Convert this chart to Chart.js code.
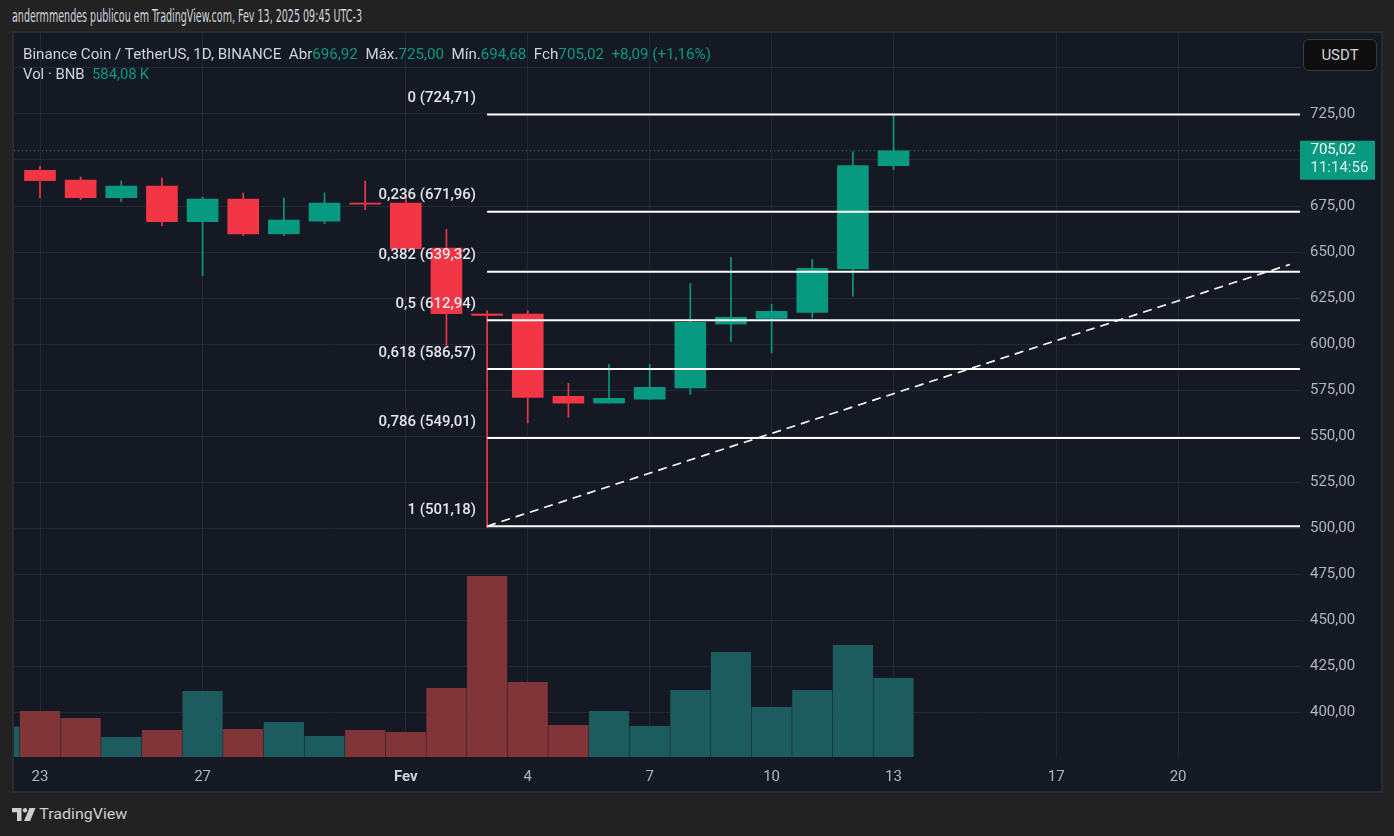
<!DOCTYPE html>
<html><head><meta charset="utf-8">
<script src="https://cdn.jsdelivr.net/npm/chart.js@4.4.1/dist/chart.umd.min.js"></script>
<style>
html,body{margin:0;padding:0;background:#222222;width:1394px;height:836px;overflow:hidden;font-family:Roboto,"Noto Sans",sans-serif;}
#header{position:absolute;left:12px;top:6px;font-family:"Liberation Sans Narrow","DejaVu Sans Condensed",Roboto,sans-serif;font-size:18px;line-height:19px;color:#d1d4dc;white-space:nowrap;transform-origin:0 50%;}
#panel{position:absolute;left:14px;top:33px;width:1367px;height:758px;background:#151924;box-shadow:0 0 0 2px #2b2c30;}
#chart{position:absolute;left:0;top:0;}
.leg{position:absolute;left:9px;white-space:nowrap;font-size:15px;line-height:18px;color:#d1d4dc;transform-origin:0 50%;}
.g{color:#089981}
#usdt{position:absolute;left:1289px;top:6px;width:72px;height:30px;background:#0e0e0f;border:1px solid #3a3b3e;border-radius:6px;color:#d1d4dc;font-size:15px;line-height:30px;text-align:center;}
#logo{position:absolute;left:12px;top:806px;height:16px;display:flex;align-items:center;color:#cfcfcf;font-size:15px;}
#logo svg{margin-right:6px}
</style></head>
<body>
<div id="header">andermmendes publicou em TradingView.com, Fev 13, 2025 09:45 UTC-3</div>
<div id="panel">
  <canvas id="chart" width="1367" height="758"></canvas>
  <div class="leg" id="leg1" style="top:12px">Binance Coin / TetherUS, 1D, BINANCE&nbsp;&nbsp;Abr<span class="g">696,92</span>&nbsp;&nbsp;Máx.<span class="g">725,00</span>&nbsp;&nbsp;Mín.<span class="g">694,68</span>&nbsp;&nbsp;Fch<span class="g">705,02</span>&nbsp;&nbsp;<span class="g">+8,09 (+1,16%)</span></div>
  <div class="leg" id="leg2" style="top:32px">Vol · BNB&nbsp;&nbsp;<span class="g">584,08&thinsp;K</span></div>
  <div id="usdt">USDT</div>
</div>
<div id="logo"><svg width="24" height="13" viewBox="0 0 24 13"><path d="M0 0H9.5V13H5V4.3H0Z" fill="#cfcfcf"/><circle cx="13" cy="2.2" r="2.2" fill="#cfcfcf"/><path d="M17.5 0H23.5L18 13H12Z" fill="#cfcfcf"/></svg><span id="logotext">TradingView</span></div>
<script>
// ---------- data ----------
const dates = ['2025-01-22','2025-01-23','2025-01-24','2025-01-25','2025-01-26','2025-01-27','2025-01-28','2025-01-29','2025-01-30','2025-01-31','2025-02-01','2025-02-02','2025-02-03','2025-02-04','2025-02-05','2025-02-06','2025-02-07','2025-02-08','2025-02-09','2025-02-10','2025-02-11','2025-02-12','2025-02-13'];
const opens  = [null,694.4,689.1,679.5,685.9,666.5,678.8,659.9,666.8,676.6,676.6,652.2,616.4,616.3,571.7,568.0,570.2,576.2,610.9,614.0,617.3,640.8,696.92];
const highs  = [null,696.7,690.8,688.6,690.2,679.9,682.1,679.3,682.1,688.6,680.5,662.3,618.2,618.2,578.7,589.0,589.0,633.0,647.1,621.6,646.0,704.5,725.00];
const lows   = [null,679.5,678.4,677.3,664.3,637.1,658.9,658.9,665.4,673.0,651.0,599.3,500.5,557.2,560.3,567.9,569.9,572.7,601.5,595.2,614.2,626.1,694.68];
const closes = [null,688.8,679.5,685.9,666.5,678.8,659.9,667.4,676.6,676.0,651.8,616.5,615.6,571.1,568.0,570.6,576.5,611.8,614.6,617.8,641.2,696.93,705.02];
const volumes = [223,339,287,146,198,488,206,258,154,198,183,510,1341,554,235,339,228,495,777,369,495,829,584.08]; // K BNB
const volumeUp = [true,false,false,true,false,true,false,true,true,false,false,false,false,false,false,true,true,true,true,true,true,true,true];
const xTickIndex  = [0,4,9,12,15,18,21,25,28];
const xTickLabels = ['23','27','Fev','4','7','10','13','17','20'];
const fibRatios = ['0','0,236','0,382','0,5','0,618','0,786','1'];
const fibLevels = [724.71,671.96,639.32,612.94,586.57,549.01,501.18];
const fibStartIndex = 11;
const trendX = [11, 30.75];
const trendY = [501.18, 643.3];
const lastPrice = 705.02;
const countdown = '11:14:56';
const yTicks = [400,425,450,475,500,525,550,575,600,625,650,675,700,725,750];

// ---------- helpers ----------
const X_MIN = -0.64, X_MAX = 31.0;
const Y_MIN = 375.85, Y_MAX = 768.95;
const idx = i => i - 1; // dates[0] = Jan 22 -> -1
const UP = '#089981', DOWN = '#f23645';
const VOL_UP = '#1d5c5e', VOL_DOWN = '#813539';
const fmt = v => v.toFixed(2).replace('.', ',');
const GRID = 'rgba(255,255,255,0.065)';

const bodyData = [], wickData = [], candleColors = [];
dates.forEach((d,i)=>{
  if (opens[i] == null) return;
  bodyData.push({x: idx(i), y: [opens[i], closes[i]]});
  wickData.push({x: idx(i), y: [lows[i], highs[i]]});
  candleColors.push(closes[i] >= opens[i] ? UP : DOWN);
});
const volData = volumes.map((v,i)=>({x: idx(i), y: v}));
const volColors = volumeUp.map(u => u ? VOL_UP : VOL_DOWN);

const datasets = [
  {type:'bar', label:'vol', data: volData, yAxisID:'yv', backgroundColor: volColors, barThickness: 39.5, grouped:false, order: 10, borderWidth:0},
  {type:'line', label:'last', data:[{x:X_MIN,y:lastPrice},{x:X_MAX,y:lastPrice}], yAxisID:'y', borderColor: UP, borderWidth:1, borderDash:[1,3], pointRadius:0, order: 7},
  {type:'bar', label:'wick', data: wickData, yAxisID:'y', backgroundColor: candleColors, barThickness: 1, grouped:false, order: 5, borderWidth:0},
  {type:'bar', label:'body', data: bodyData, yAxisID:'y', backgroundColor: candleColors, barThickness: 31, grouped:false, order: 4, borderWidth:0, minBarLength:1},
];
fibLevels.forEach((lv,i)=>{
  datasets.push({type:'line', label:'fib'+fibRatios[i], data:[{x:fibStartIndex,y:lv},{x:X_MAX,y:lv}], yAxisID:'y', borderColor:'#ffffff', borderWidth:2, pointRadius:0, order:2});
});
datasets.push({type:'line', label:'trend', data: trendX.map((x,i)=>({x, y: trendY[i]})), yAxisID:'y', borderColor:'#ffffff', borderWidth:1.6, borderDash:[9,6], pointRadius:0, order:1});

const fibLabelPlugin = {
  id:'fibLabels',
  afterDatasetsDraw(chart){
    const {ctx, scales:{x, y}} = chart;
    ctx.save();
    ctx.font = '500 15px Roboto';
    ctx.fillStyle = '#e3e5ea';
    ctx.textAlign = 'right';
    ctx.textBaseline = 'middle';
    const px = x.getPixelForValue(fibStartIndex) - 11;
    fibRatios.forEach((r,i)=>{
      ctx.fillText(`${r} (${fmt(fibLevels[i])})`, px, y.getPixelForValue(fibLevels[i]) - 16);
    });
    ctx.restore();
  },
  afterDraw(chart){
    const {ctx, chartArea, scales:{y}} = chart;
    const py = y.getPixelForValue(lastPrice);
    ctx.save();
    ctx.fillStyle = UP;
    ctx.fillRect(chartArea.right, py - 10, 75, 39);
    ctx.fillStyle = '#ffffff';
    ctx.font = '15px Roboto';
    ctx.textAlign = 'left';
    ctx.textBaseline = 'middle';
    ctx.fillText(fmt(lastPrice), chartArea.right + 10.5, py);
    ctx.fillStyle = 'rgba(255,255,255,0.85)';
    ctx.fillText(countdown, chartArea.right + 10.5, py + 17.5);
    ctx.restore();
  }
};

new Chart(document.getElementById('chart'), {
  type:'bar',
  data:{datasets},
  plugins:[fibLabelPlugin],
  options:{
    responsive:false, animation:false, devicePixelRatio:1,
    layout:{padding:0},
    plugins:{legend:{display:false}, tooltip:{enabled:false}},
    scales:{
      x:{type:'linear', min:X_MIN, max:X_MAX, offset:false, position:'bottom',
        grid:{color:GRID, drawTicks:false, offset:false}, border:{display:false},
        afterBuildTicks: s => { s.ticks = xTickIndex.map(v=>({value:v})); },
        afterFit: s => { s.height = 34; s.paddingLeft = 0; s.paddingRight = 0; },
        ticks:{padding:11, autoSkip:false, maxRotation:0,
          color: c => (c.tick && c.tick.value === 9) ? '#d1d4dc' : '#b2b5be',
          font: c => ({family:'Roboto', size:15, weight: (c.tick && c.tick.value === 9) ? 'bold' : 'normal'}),
          callback: v => { const k = xTickIndex.indexOf(v); return k >= 0 ? xTickLabels[k] : ''; }}
      },
      y:{type:'linear', position:'right', min:Y_MIN, max:Y_MAX,
        grid:{color:GRID, drawTicks:false}, border:{display:false},
        afterBuildTicks: s => { s.ticks = yTicks.map(v=>({value:v})); },
        afterFit: s => { s.width = 81; s.paddingTop = 0; s.paddingBottom = 0; },
        ticks:{padding:10, color:'#b2b5be', font:{family:'Roboto', size:15},
          callback: v => (v === 700 || v === 750) ? '' : fmt(v)}
      },
      yv:{type:'linear', display:false, min:0, max:5373, grid:{display:false}}
    }
  }
});

function fit(id, w){
  const el = document.getElementById(id);
  el.style.transform = '';
  const r = el.getBoundingClientRect().width;
  if (r > 0) el.style.transform = `scaleX(${w / r})`;
}
fit('header', 350);
fit('leg1', 688);
fit('leg2', 126);
fit('logotext', 88);
</script>
</body></html>
